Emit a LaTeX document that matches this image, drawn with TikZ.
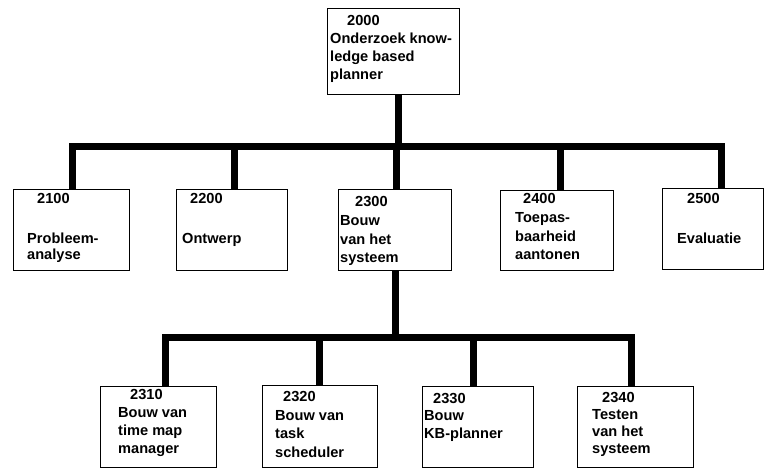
\documentclass[tikz,border=0pt]{standalone}
\usepackage{fontspec}
\setmainfont{Liberation Sans}
\begin{document}
\begin{tikzpicture}[x=1pt,y=-1pt,
  box/.style={draw,line width=1.2pt,anchor=north west,inner sep=0pt},
  lbl/.style={anchor=base west,inner sep=0pt,font=\fontsize{14.6}{16}\selectfont\bfseries},
  conn/.style={line width=7pt,line join=miter}]
\useasboundingbox (0,0) rectangle (765,469);
% boxes
\node[box,minimum width=132pt,minimum height=86pt] (n2000) at (327,8) {};
\node[box,minimum width=116pt,minimum height=81pt] (n2100) at (13,189) {};
\node[box,minimum width=111pt,minimum height=81pt] (n2200) at (176,189) {};
\node[box,minimum width=113pt,minimum height=81pt] (n2300) at (338,189) {};
\node[box,minimum width=113pt,minimum height=80pt] (n2400) at (500,190) {};
\node[box,minimum width=101pt,minimum height=81pt] (n2500) at (662,188) {};
\node[box,minimum width=116pt,minimum height=81pt] (n2310) at (100,386) {};
\node[box,minimum width=115pt,minimum height=82pt] (n2320) at (262,385) {};
\node[box,minimum width=111pt,minimum height=81pt] (n2330) at (422,386) {};
\node[box,minimum width=116pt,minimum height=81pt] (n2340) at (577,386) {};
% texts
\node[lbl] (t2000a) at (347,25) {2000};
\node[lbl] (t2000b) at (330,43) {Onderzoek know-};
\node[lbl] (t2000c) at (330,61) {ledge based};
\node[lbl] (t2000d) at (330,79) {planner};
\node[lbl] (t2100a) at (37,203) {2100};
\node[lbl] (t2100b) at (27,243) {Probleem-};
\node[lbl] (t2100c) at (27,259) {analyse};
\node[lbl] (t2200a) at (190,203) {2200};
\node[lbl] (t2200b) at (182,243) {Ontwerp};
\node[lbl] (t2300a) at (355,206) {2300};
\node[lbl] (t2300b) at (340,225) {Bouw};
\node[lbl] (t2300c) at (340,244) {van het};
\node[lbl] (t2300d) at (340,262) {systeem};
\node[lbl] (t2400a) at (523,203) {2400};
\node[lbl] (t2400b) at (515,222) {Toepas-};
\node[lbl] (t2400c) at (515,241) {baarheid};
\node[lbl] (t2400d) at (515,259) {aantonen};
\node[lbl] (t2500a) at (687,203) {2500};
\node[lbl] (t2500b) at (677,243) {Evaluatie};
\node[lbl] (t2310a) at (130,399) {2310};
\node[lbl] (t2310b) at (118,417) {Bouw van};
\node[lbl] (t2310c) at (118,435) {time map};
\node[lbl] (t2310d) at (118,453) {manager};
\node[lbl] (t2320a) at (283,401) {2320};
\node[lbl] (t2320b) at (275,420) {Bouw van};
\node[lbl] (t2320c) at (275,438) {task};
\node[lbl] (t2320d) at (275,457) {scheduler};
\node[lbl] (t2330a) at (433,403) {2330};
\node[lbl] (t2330b) at (424,420) {Bouw};
\node[lbl] (t2330c) at (424,438) {KB-planner};
\node[lbl] (t2340a) at (602,402) {2340};
\node[lbl] (t2340b) at (592,419) {Testen};
\node[lbl] (t2340c) at (592,436) {van het};
\node[lbl] (t2340d) at (592,453) {systeem};
% connectors
\coordinate (top) at ([xshift=5pt]n2000.south);
\coordinate (bar1) at ([yshift=-51pt]top);
\coordinate (bar2) at (396,337);
\draw[conn] (top) -- (bar1);
\draw[conn] (bar1) -| ([xshift=1pt]n2100.north);
\draw[conn] (bar1) -| ([xshift=2pt]n2200.north);
\draw[conn] (bar1) -| ([xshift=1pt]n2300.north);
\draw[conn] (bar1) -| ([xshift=3pt]n2400.north);
\draw[conn] (bar1) -| ([xshift=8pt]n2500.north);
\draw[conn] (n2300.south) -- (n2300.south |- bar2);
\draw[conn] (bar2) -| ([xshift=7pt]n2310.north);
\draw[conn] (bar2) -| ([xshift=-1pt]n2320.north);
\draw[conn] (bar2) -| ([xshift=-5pt]n2330.north);
\draw[conn] (bar2) -| ([xshift=-4pt]n2340.north);
\end{tikzpicture}
\end{document}
